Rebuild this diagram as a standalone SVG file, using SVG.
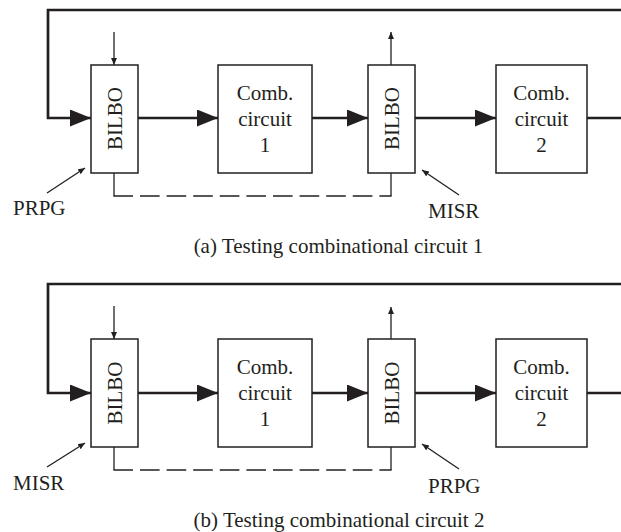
<svg xmlns="http://www.w3.org/2000/svg" width="621" height="532" viewBox="0 0 621 532">
<style>
text{font-family:"Liberation Serif","Times New Roman",serif;fill:#231f20;font-size:21px}
.box{fill:#fff;stroke:#231f20;stroke-width:1.5}
.thick{fill:none;stroke:#231f20;stroke-width:2.7}
.thin{fill:none;stroke:#231f20;stroke-width:1.3}
.dash{fill:none;stroke:#231f20;stroke-width:1.3;stroke-dasharray:19.6 7}
.mid{text-anchor:middle}
</style>
<defs>
<marker id="big" markerUnits="userSpaceOnUse" markerWidth="22" markerHeight="18" refX="21" refY="8.5" orient="auto"><path d="M0,0 L21,8.5 L0,17 z" fill="#231f20"/></marker>
<marker id="sm" markerUnits="userSpaceOnUse" markerWidth="8" markerHeight="8" refX="7" refY="3" orient="auto"><path d="M0,0 L7,3 L0,6 z" fill="#231f20"/></marker>
</defs>
<g id="panelA">
<g id="connectorsA">
<polyline class="thick" points="621,10 48,10 48,118 91,118" marker-end="url(#big)"/>
<line class="thick" x1="138" y1="118" x2="218" y2="118" marker-end="url(#big)"/>
<line class="thick" x1="312" y1="118" x2="368" y2="118" marker-end="url(#big)"/>
<line class="thick" x1="415" y1="118" x2="496" y2="118" marker-end="url(#big)"/>
<line class="thick" x1="587" y1="118" x2="621" y2="118"/>
<line class="thin" x1="114" y1="32" x2="114" y2="65" marker-end="url(#sm)"/>
<line class="thin" x1="391" y1="65" x2="391" y2="32" marker-end="url(#sm)"/>
<polyline class="thin" points="114,173 114,196"/>
<polyline class="thin" points="391,173 391,196"/>
<line class="dash" x1="113.4" y1="196" x2="391.6" y2="196"/>
<line class="thin" x1="47" y1="193" x2="85" y2="168" marker-end="url(#sm)"/>
<line class="thin" x1="459" y1="195" x2="422" y2="170" marker-end="url(#sm)"/>
</g>
<g id="a_bilbo1"><rect class="box" x="91" y="65" width="47" height="108"/><text class="mid" transform="translate(121.5,118.5) rotate(-90)">BILBO</text></g>
<g id="a_comb1"><rect class="box" x="218" y="65" width="94" height="108"/><text class="mid" x="265" y="100">Comb.</text><text class="mid" x="265" y="126">circuit</text><text class="mid" x="265" y="152">1</text></g>
<g id="a_bilbo2"><rect class="box" x="368" y="65" width="47" height="108"/><text class="mid" transform="translate(398.5,118.5) rotate(-90)">BILBO</text></g>
<g id="a_comb2"><rect class="box" x="496" y="65" width="91" height="108"/><text class="mid" x="541.5" y="100">Comb.</text><text class="mid" x="541.5" y="126">circuit</text><text class="mid" x="541.5" y="152">2</text></g>
<text x="13" y="215">PRPG</text>
<text x="428" y="218">MISR</text>
<text class="mid" x="338.5" y="253">(a) Testing combinational circuit 1</text>
</g>
<g id="panelB" transform="translate(0,274)">
<g id="connectorsB">
<polyline class="thick" points="621,10 48,10 48,119 91,119" marker-end="url(#big)"/>
<line class="thick" x1="138" y1="119" x2="218" y2="119" marker-end="url(#big)"/>
<line class="thick" x1="312" y1="119" x2="368" y2="119" marker-end="url(#big)"/>
<line class="thick" x1="415" y1="119" x2="496" y2="119" marker-end="url(#big)"/>
<line class="thick" x1="587" y1="119" x2="621" y2="119"/>
<line class="thin" x1="114" y1="32" x2="114" y2="65" marker-end="url(#sm)"/>
<line class="thin" x1="391" y1="65" x2="391" y2="33" marker-end="url(#sm)"/>
<polyline class="thin" points="114,173 114,196"/>
<polyline class="thin" points="391,173 391,196"/>
<line class="dash" x1="113.4" y1="196" x2="391.6" y2="196"/>
<line class="thin" x1="47" y1="193" x2="85" y2="169" marker-end="url(#sm)"/>
<line class="thin" x1="459" y1="195" x2="422" y2="170" marker-end="url(#sm)"/>
</g>
<g id="b_bilbo1"><rect class="box" x="91" y="65" width="47" height="108"/><text class="mid" transform="translate(121.5,119) rotate(-90)">BILBO</text></g>
<g id="b_comb1"><rect class="box" x="218" y="65" width="94" height="108"/><text class="mid" x="265" y="100">Comb.</text><text class="mid" x="265" y="126">circuit</text><text class="mid" x="265" y="152">1</text></g>
<g id="b_bilbo2"><rect class="box" x="368" y="65" width="47" height="108"/><text class="mid" transform="translate(398.5,119) rotate(-90)">BILBO</text></g>
<g id="b_comb2"><rect class="box" x="496" y="65" width="91" height="108"/><text class="mid" x="541.5" y="100">Comb.</text><text class="mid" x="541.5" y="126">circuit</text><text class="mid" x="541.5" y="152">2</text></g>
<text x="13" y="216">MISR</text>
<text x="428" y="219">PRPG</text>
<text class="mid" x="339" y="253">(b) Testing combinational circuit 2</text>
</g>
</svg>
